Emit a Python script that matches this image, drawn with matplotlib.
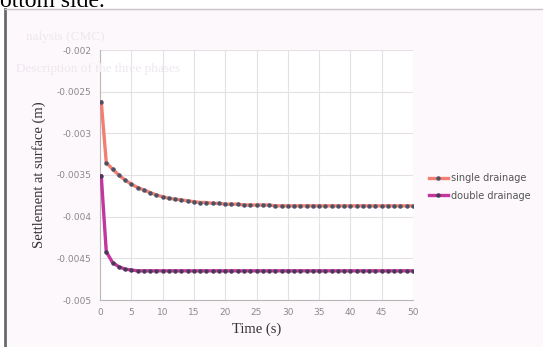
import matplotlib.pyplot as plt
from matplotlib.lines import Line2D
import numpy as np

# time steps (s)
time_s = [0.2] + list(range(1, 51))

single_drainage = [
    -0.00262, -0.00335, -0.00343, -0.00350, -0.00356, -0.00361, -0.00365,
    -0.00368, -0.00371, -0.00374, -0.00376, -0.00378, -0.00379, -0.00380,
    -0.00381, -0.00382, -0.00383, -0.00383, -0.00384, -0.00384, -0.00385,
    -0.00385, -0.00385, -0.00386, -0.00386, -0.00386, -0.00386, -0.00386,
    -0.00387, -0.00387, -0.00387, -0.00387, -0.00387, -0.00387, -0.00387,
    -0.00387, -0.00387, -0.00387, -0.00387, -0.00387, -0.00387, -0.00387,
    -0.00387, -0.00387, -0.00387, -0.00387, -0.00387, -0.00387, -0.00387,
    -0.00387, -0.00387,
]

double_drainage = [
    -0.00351, -0.00442, -0.00455, -0.00460, -0.00463, -0.00464, -0.00465,
    -0.00465, -0.00465, -0.00465, -0.00465, -0.00465, -0.00465, -0.00465,
    -0.00465, -0.00465, -0.00465, -0.00465, -0.00465, -0.00465, -0.00465,
    -0.00465, -0.00465, -0.00465, -0.00465, -0.00465, -0.00465, -0.00465,
    -0.00465, -0.00465, -0.00465, -0.00465, -0.00465, -0.00465, -0.00465,
    -0.00465, -0.00465, -0.00465, -0.00465, -0.00465, -0.00465, -0.00465,
    -0.00465, -0.00465, -0.00465, -0.00465, -0.00465, -0.00465, -0.00465,
    -0.00465, -0.00465,
]

x_ticks = list(range(0, 51, 5))
y_ticks = [-0.005, -0.0045, -0.004, -0.0035, -0.003, -0.0025, -0.002]
y_tick_labels = ["-0.005", "-0.0045", "-0.004", "-0.0035", "-0.003", "-0.0025", "-0.002"]

W, H = 543, 347
fig = plt.figure(figsize=(5.43, 3.47), dpi=100)
fig.patch.set_facecolor("#fcf8fb")

# white page strip above the photographed chart, dark left edge of the photo
fig.patches.append(plt.Rectangle((0, 1 - 9 / H), 1, 9 / H, transform=fig.transFigure,
                                 facecolor="white", edgecolor="none", zorder=-5))
fig.patches.append(plt.Rectangle((0, 0), 5 / W, 1, transform=fig.transFigure,
                                 facecolor="white", edgecolor="none", zorder=-5))
fig.add_artist(Line2D([5 / W, 5 / W], [0, 1 - 9 / H], transform=fig.transFigure,
                      color="#6a6a6a", lw=2.0))
fig.add_artist(Line2D([5 / W, 1], [1 - 9 / H, 1 - 9 / H], transform=fig.transFigure,
                      color="#c8c4c8", lw=1.0))

# text of the page above the photo, cut off at the top
fig.text(0.0, 1 - 7 / H, "ottom side.", fontsize=17, family="Liberation Serif",
         color="black", va="baseline", ha="left")
# faint text showing through the photo
fig.text(26 / W, 1 - 40 / H, "nalysis (CMC)", fontsize=9.5, family="Liberation Serif",
         color="#eee8ee", va="baseline")
fig.text(16 / W, 1 - 72 / H, "Description of the three phases", fontsize=9.5,
         family="Liberation Serif", color="#eee8ee", va="baseline")

ax = fig.add_axes([100 / W, 1 - 300 / H, 313 / W, 250 / H])
ax.set_facecolor("white")

ax.plot(time_s, single_drainage, color="#f27f72", lw=2.4, marker="o", markersize=2.2,
        markerfacecolor="#4a5266", markeredgecolor="#4a5266", label="single drainage", zorder=3)
ax.plot(time_s, double_drainage, color="#c2369e", lw=2.4, marker="o", markersize=2.2,
        markerfacecolor="#4a3a55", markeredgecolor="#4a3a55", label="double drainage", zorder=3)

ax.set_xlim(0, 50)
ax.set_ylim(-0.005, -0.002)
ax.set_xticks(x_ticks)
ax.set_yticks(y_ticks)
ax.set_yticklabels(y_tick_labels)
ax.tick_params(axis="both", labelsize=6.5, colors="#8a8a8a", length=0, pad=6)
ax.grid(True, color="#e4e0e4", lw=0.8)
for side in ["top", "right"]:
    ax.spines[side].set_visible(False)
for side in ["left", "bottom"]:
    ax.spines[side].set_color("#b8b8b8")
    ax.spines[side].set_linewidth(0.8)

ax.set_xlabel("Time (s)", family="Liberation Serif", fontsize=10.5, color="#333333", labelpad=4)
ax.set_ylabel("Settlement at surface (m)", family="Liberation Serif", fontsize=10.5,
              color="#333333", labelpad=8)

leg = fig.legend(loc="center left", bbox_to_anchor=(420 / W, 1 - 187 / H), frameon=False,
                 fontsize=7, handlelength=2.0, handletextpad=0.3, labelspacing=0.8)
for t in leg.get_texts():
    t.set_color("#555555")

fig.savefig("out.png", dpi=100)
